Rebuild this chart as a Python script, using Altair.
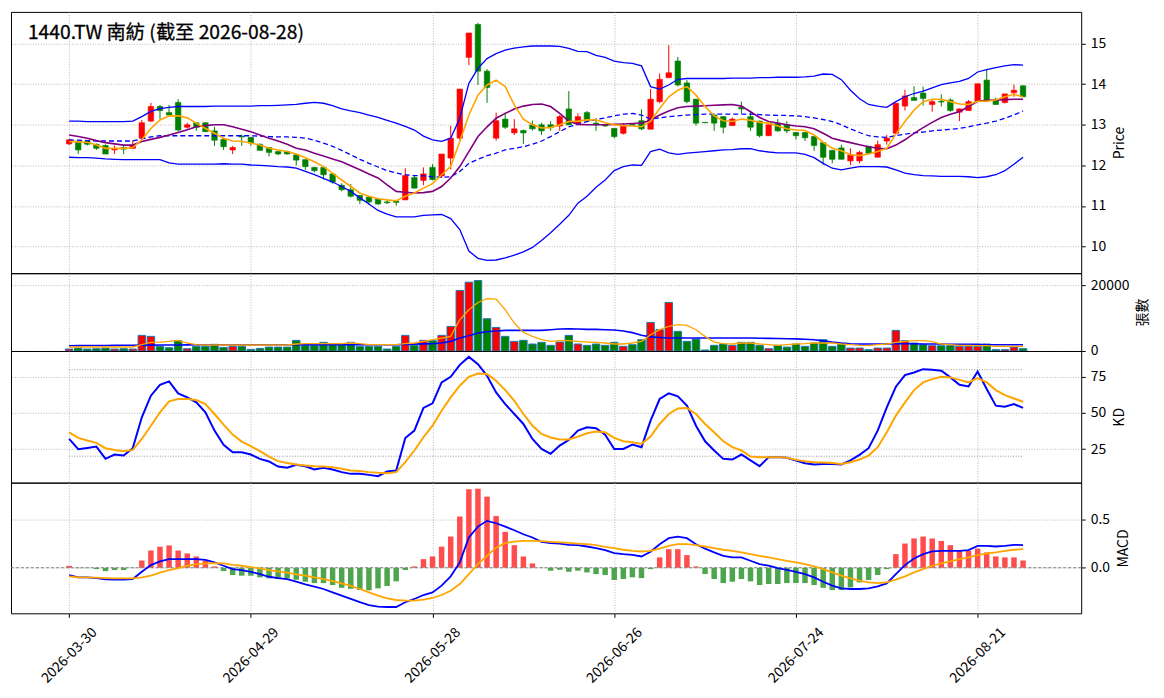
import altair as alt
import pandas as pd

FONT = "Noto Sans CJK TC"
TITLE = "1440.TW 南紡 (截至 2026-08-28)"

tick_pos = [0, 20, 40, 60, 80, 100]
tick_labels = ["2026-03-30", "2026-04-29", "2026-05-28", "2026-06-26", "2026-07-24", "2026-08-21"]

open_ = [12.53, 12.60, 12.60, 12.52, 12.49, 12.38, 12.44, 12.42, 12.67, 13.09,
         13.45, 13.30, 13.55, 12.94, 13.05, 13.05, 12.85, 12.64, 12.38, 12.72,
         12.69, 12.52, 12.44, 12.34, 12.34, 12.26, 12.14, 11.95, 11.95, 11.79,
         11.51, 11.40, 11.26, 11.22, 11.17, 11.10, 11.12, 11.15, 11.70, 11.63,
         11.95, 11.74, 12.18, 12.67, 14.66, 15.47, 14.32, 12.67, 13.14, 12.80,
         12.86, 13.00, 13.00, 13.00, 12.97, 13.39, 13.04, 13.30, 13.04, 12.99,
         12.91, 12.79, 13.01, 13.10, 12.89, 13.57, 14.16, 14.57, 14.03, 13.63,
         13.06, 13.24, 13.20, 12.98, 13.43, 13.20, 13.09, 12.73, 13.04, 13.00,
         12.81, 12.81, 12.71, 12.56, 12.37, 12.43, 12.11, 12.11, 12.47, 12.20,
         12.60, 12.79, 13.46, 13.67, 13.78, 13.50, 13.58, 13.61, 13.31, 13.35,
         13.57, 14.10, 13.61, 13.55, 13.79, 13.96]
high = [12.66, 12.62, 12.62, 12.54, 12.52, 12.49, 12.50, 12.62, 13.12, 13.54,
        13.49, 13.49, 13.63, 13.05, 13.06, 13.06, 12.95, 12.66, 12.48, 12.76,
        12.70, 12.54, 12.45, 12.36, 12.36, 12.27, 12.15, 11.96, 11.96, 11.80,
        11.56, 11.54, 11.27, 11.23, 11.18, 11.15, 11.13, 11.93, 11.75, 11.95,
        12.03, 12.28, 12.98, 13.88, 15.26, 15.51, 14.37, 13.30, 13.30, 13.14,
        12.88, 13.10, 13.05, 13.09, 13.24, 13.83, 13.28, 13.34, 13.16, 13.02,
        12.92, 13.04, 13.04, 13.38, 13.88, 14.26, 14.96, 14.67, 14.10, 13.64,
        13.06, 13.25, 13.21, 13.18, 13.57, 13.32, 13.10, 13.00, 13.14, 13.09,
        12.82, 12.82, 12.72, 12.57, 12.38, 12.51, 12.42, 12.36, 12.48, 12.61,
        12.75, 13.53, 13.86, 13.95, 13.94, 13.63, 13.75, 13.65, 13.40, 13.61,
        14.01, 14.35, 13.67, 13.76, 13.99, 13.97]
low = [12.50, 12.28, 12.49, 12.38, 12.28, 12.28, 12.28, 12.42, 12.65, 13.07,
       13.14, 13.24, 12.83, 12.91, 12.85, 12.83, 12.48, 12.38, 12.28, 12.48,
       12.48, 12.37, 12.22, 12.25, 12.27, 12.00, 11.89, 11.83, 11.65, 11.55,
       11.36, 11.21, 11.05, 11.03, 11.03, 11.05, 11.01, 11.15, 11.43, 11.51,
       11.63, 11.69, 11.90, 12.63, 14.47, 13.98, 13.54, 12.61, 12.90, 12.75,
       12.53, 12.86, 12.75, 12.85, 12.85, 12.99, 13.01, 13.07, 12.85, 12.95,
       12.67, 12.76, 12.98, 12.87, 12.89, 13.53, 14.16, 13.94, 13.53, 12.98,
       13.04, 12.85, 12.79, 12.98, 13.28, 12.85, 12.69, 12.73, 12.83, 12.79,
       12.64, 12.60, 12.36, 12.01, 12.05, 12.15, 12.01, 12.05, 12.30, 12.20,
       12.51, 12.79, 13.35, 13.60, 13.47, 13.32, 13.45, 13.32, 13.09, 13.35,
       13.57, 13.61, 13.49, 13.52, 13.69, 13.69]
close = [12.63, 12.38, 12.52, 12.42, 12.28, 12.42, 12.40, 12.50, 13.05, 13.45,
         13.35, 13.24, 12.87, 13.00, 12.94, 12.83, 12.62, 12.46, 12.44, 12.70,
         12.55, 12.37, 12.32, 12.28, 12.28, 12.13, 11.97, 11.87, 11.77, 11.59,
         11.40, 11.24, 11.14, 11.10, 11.05, 11.08, 11.09, 11.75, 11.44, 11.79,
         11.65, 12.28, 12.67, 13.88, 15.26, 14.32, 13.92, 13.10, 12.94, 12.90,
         12.80, 12.90, 12.85, 12.93, 13.20, 13.00, 13.20, 13.09, 13.00, 12.97,
         12.71, 12.97, 12.99, 12.90, 13.63, 14.12, 14.28, 13.98, 13.57, 13.04,
         13.05, 13.04, 12.94, 13.14, 13.39, 12.94, 12.73, 13.00, 12.85, 12.85,
         12.73, 12.68, 12.49, 12.20, 12.15, 12.15, 12.26, 12.32, 12.30, 12.51,
         12.67, 13.53, 13.71, 13.60, 13.65, 13.57, 13.56, 13.35, 13.39, 13.57,
         14.01, 13.61, 13.50, 13.76, 13.85, 13.69]

volume = [600, 900, 600, 700, 900, 600, 700, 600, 4770, 4470,
          1420, 1000, 3150, 700, 1420, 1420, 2030, 1100, 1420, 1420,
          500, 800, 1200, 1200, 1200, 3250, 1730, 1730, 2640, 2130,
          2130, 2640, 1420, 1420, 1420, 600, 1420, 4770, 1730, 3250,
          3150, 4770, 7500, 18470, 21000, 21500, 9850, 7200, 4470, 2940,
          3250, 2130, 2640, 1730, 2740, 4770, 2130, 1730, 2130, 1730,
          2640, 1420, 1930, 3450, 8730, 6500, 14820, 5990, 2940, 3650,
          300, 1730, 2130, 1730, 2640, 2640, 1730, 700, 1730, 1200,
          2130, 1420, 2440, 3450, 1420, 2130, 900, 900, 400, 900,
          900, 6290, 3150, 2440, 1930, 1620, 1620, 1620, 1420, 1420,
          1420, 2130, 400, 400, 1200, 700]
vol_ma5 = [1220, 1220, 1220, 1220, 1220, 1220, 1220, 1220, 1930, 2640,
           2700, 2940, 3250, 2440, 1930, 1830, 1830, 1830, 1830, 1830,
           1830, 1830, 1830, 1830, 1830, 2130, 2230, 2230, 2230, 2230,
           2230, 2440, 2230, 1930, 1930, 1930, 1930, 2230, 2440, 2940,
           3450, 3960, 4470, 9540, 12590, 14820, 15940, 15840, 12590, 8530,
           5680, 4470, 3450, 2940, 3150, 3150, 2940, 2740, 2640, 2440,
           2130, 2130, 2440, 2940, 4970, 6500, 7510, 8020, 7810, 6500,
           4470, 2740, 2230, 2130, 2440, 2440, 2130, 1930, 1730, 1930,
           2130, 2230, 2440, 2440, 2440, 2130, 1930, 1730, 1620, 1930,
           2130, 2640, 2940, 3150, 3150, 2840, 2130, 1930, 1730, 1730,
           1620, 1620, 1420, 1420, 1420, 1420]
vol_ma20 = [1620, 1640, 1660, 1680, 1700, 1720, 1740, 1760, 1780, 1800,
            1820, 1830, 1850, 1870, 1890, 1900, 1910, 1920, 1930, 1930,
            1930, 1930, 1930, 1930, 1930, 1930, 1930, 1930, 1930, 1930,
            1930, 1930, 1930, 1930, 1930, 1930, 1930, 2030, 2100, 2160,
            2230, 2440, 2940, 3960, 4670, 5480, 5890, 6090, 6290, 6290,
            6290, 6290, 6290, 6500, 6700, 6800, 6700, 6600, 6600, 6500,
            6400, 6100, 5600, 4800, 4300, 4100, 3960, 3960, 3960, 3960,
            3960, 3960, 3960, 3960, 3960, 3960, 3900, 3850, 3800, 3750,
            3700, 3600, 3450, 3100, 2700, 2400, 2200, 2130, 2130, 2130,
            2130, 2230, 2230, 2230, 2130, 2130, 2130, 2030, 2030, 2030,
            2030, 1930, 1930, 1930, 1930, 1930]

bb_upper = [13.09, 13.09, 13.08, 13.08, 13.08, 13.08, 13.08, 13.09, 13.20, 13.33,
            13.40, 13.43, 13.45, 13.45, 13.45, 13.45, 13.46, 13.46, 13.46, 13.46,
            13.46, 13.47, 13.47, 13.48, 13.49, 13.50, 13.53, 13.55, 13.53, 13.47,
            13.39, 13.34, 13.30, 13.24, 13.18, 13.11, 13.04, 12.96, 12.87, 12.72,
            12.63, 12.59, 12.67, 13.16, 14.02, 14.39, 14.63, 14.75, 14.84, 14.89,
            14.92, 14.94, 14.94, 14.94, 14.93, 14.88, 14.81, 14.80, 14.71, 14.66,
            14.57, 14.53, 14.51, 14.45, 13.94, 13.88, 13.98, 14.12, 14.14, 14.14,
            14.14, 14.14, 14.14, 14.15, 14.15, 14.15, 14.16, 14.16, 14.17, 14.17,
            14.17, 14.18, 14.20, 14.25, 14.24, 14.11, 13.85, 13.64, 13.50, 13.46,
            13.43, 13.57, 13.69, 13.77, 13.83, 13.91, 13.99, 14.03, 14.07, 14.14,
            14.30, 14.36, 14.41, 14.45, 14.48, 14.47]
bb_mid = [12.63, 12.62, 12.61, 12.60, 12.60, 12.60, 12.60, 12.60, 12.65, 12.70,
          12.73, 12.73, 12.73, 12.73, 12.73, 12.73, 12.73, 12.73, 12.73, 12.73,
          12.73, 12.72, 12.71, 12.70, 12.70, 12.69, 12.67, 12.62, 12.55, 12.47,
          12.37, 12.26, 12.15, 12.05, 11.96, 11.87, 11.81, 11.77, 11.75, 11.74,
          11.72, 11.71, 11.72, 11.85, 12.05, 12.15, 12.24, 12.30, 12.38, 12.42,
          12.46, 12.52, 12.60, 12.71, 12.83, 12.95, 13.01, 13.08, 13.13, 13.17,
          13.22, 13.26, 13.28, 13.24, 13.14, 13.17, 13.20, 13.22, 13.24, 13.25,
          13.26, 13.26, 13.26, 13.26, 13.26, 13.26, 13.25, 13.24, 13.23, 13.23,
          13.22, 13.20, 13.17, 13.13, 13.08, 13.00, 12.90, 12.81, 12.73, 12.70,
          12.69, 12.73, 12.77, 12.80, 12.82, 12.85, 12.87, 12.89, 12.91, 12.95,
          13.00, 13.04, 13.09, 13.16, 13.24, 13.34]
bb_lower = [12.20, 12.19, 12.19, 12.18, 12.16, 12.15, 12.14, 12.14, 12.14, 12.14,
            12.14, 12.06, 12.03, 12.03, 12.03, 12.03, 12.03, 12.04, 12.03, 12.03,
            12.01, 12.00, 11.99, 11.97, 11.96, 11.93, 11.85, 11.77, 11.68, 11.59,
            11.48, 11.36, 11.20, 11.05, 10.89, 10.80, 10.73, 10.73, 10.73, 10.77,
            10.78, 10.79, 10.69, 10.42, 9.89, 9.71, 9.66, 9.67, 9.72, 9.79,
            9.87, 9.98, 10.15, 10.34, 10.55, 10.77, 11.07, 11.24, 11.46, 11.64,
            11.87, 11.97, 12.01, 12.00, 12.34, 12.40, 12.31, 12.27, 12.30, 12.32,
            12.34, 12.36, 12.38, 12.39, 12.41, 12.41, 12.36, 12.33, 12.31, 12.31,
            12.31, 12.27, 12.19, 12.05, 11.93, 11.89, 11.93, 11.97, 11.97, 11.97,
            11.96, 11.89, 11.81, 11.77, 11.75, 11.74, 11.73, 11.73, 11.73, 11.72,
            11.70, 11.72, 11.77, 11.87, 12.03, 12.20]
ma5 = [12.59, 12.58, 12.57, 12.50, 12.42, 12.42, 12.42, 12.44, 12.63, 12.91,
       13.12, 13.22, 13.22, 13.17, 13.04, 12.91, 12.79, 12.67, 12.60, 12.59,
       12.55, 12.50, 12.42, 12.38, 12.34, 12.28, 12.19, 12.09, 11.97, 11.81,
       11.64, 11.48, 11.32, 11.24, 11.18, 11.15, 11.13, 11.24, 11.32, 11.44,
       11.55, 11.77, 11.97, 12.59, 13.24, 13.73, 13.98, 14.10, 13.94, 13.49,
       13.14, 13.00, 12.92, 12.93, 13.00, 13.08, 13.09, 13.12, 13.12, 13.05,
       13.00, 12.98, 12.97, 12.95, 13.09, 13.40, 13.69, 13.85, 13.94, 13.73,
       13.45, 13.22, 13.10, 13.08, 13.14, 13.11, 13.06, 13.04, 12.97, 12.90,
       12.87, 12.86, 12.75, 12.57, 12.42, 12.36, 12.26, 12.24, 12.28, 12.34,
       12.42, 12.77, 13.08, 13.36, 13.57, 13.63, 13.63, 13.57, 13.51, 13.50,
       13.58, 13.58, 13.61, 13.69, 13.75, 13.69]
ma10 = [12.75, 12.71, 12.67, 12.61, 12.56, 12.53, 12.50, 12.50, 12.59, 12.64,
        12.69, 12.75, 12.81, 12.88, 12.95, 12.98, 13.00, 13.00, 12.95, 12.89,
        12.83, 12.75, 12.67, 12.60, 12.52, 12.42, 12.38, 12.30, 12.23, 12.16,
        12.09, 11.99, 11.89, 11.79, 11.69, 11.52, 11.36, 11.34, 11.32, 11.33,
        11.36, 11.48, 11.69, 11.97, 12.34, 12.71, 12.95, 13.16, 13.28, 13.39,
        13.46, 13.50, 13.51, 13.45, 13.28, 13.09, 13.01, 13.00, 13.00, 13.00,
        13.01, 13.02, 13.03, 13.04, 13.12, 13.24, 13.34, 13.42, 13.45, 13.46,
        13.47, 13.48, 13.49, 13.50, 13.46, 13.32, 13.18, 13.08, 13.04, 13.00,
        12.97, 12.95, 12.90, 12.79, 12.67, 12.61, 12.56, 12.51, 12.46, 12.42,
        12.41, 12.50, 12.63, 12.79, 12.93, 13.06, 13.18, 13.26, 13.32, 13.45,
        13.58, 13.60, 13.61, 13.62, 13.63, 13.63]

k_val = [32.0, 24.9, 25.8, 26.7, 18.2, 21.2, 20.5, 25.6, 47.0, 62.0,
         69.6, 71.9, 63.6, 60.8, 57.4, 50.5, 37.8, 27.9, 22.8, 22.8,
         21.2, 18.2, 16.4, 12.9, 12.0, 14.1, 13.1, 10.8, 12.0, 10.8,
         9.0, 7.8, 7.8, 7.1, 6.2, 9.4, 10.1, 32.7, 37.8, 53.5,
         56.7, 71.2, 75.1, 83.4, 88.9, 83.9, 75.8, 64.3, 56.2, 49.3,
         42.4, 32.0, 25.1, 21.7, 27.4, 31.3, 37.8, 40.1, 39.4, 35.0,
         25.1, 25.1, 28.1, 26.3, 44.7, 59.7, 63.6, 61.5, 55.1, 41.2,
         30.4, 24.0, 18.2, 17.7, 21.2, 17.1, 13.1, 19.4, 19.4, 18.9,
         17.1, 15.2, 14.3, 14.7, 14.7, 14.3, 17.1, 21.0, 25.6, 37.8,
         53.9, 68.2, 76.3, 78.1, 80.4, 80.0, 79.3, 74.7, 69.6, 68.4,
         78.8, 66.6, 55.1, 54.4, 56.2, 53.5]
d_val = [36.6, 32.7, 30.9, 29.3, 25.6, 24.4, 23.5, 24.4, 32.0, 41.2,
         50.5, 58.1, 59.7, 59.7, 59.0, 56.2, 49.3, 41.9, 35.0, 30.2,
         27.0, 23.5, 19.8, 16.6, 15.4, 14.3, 13.6, 13.1, 12.9, 12.4,
         11.3, 10.1, 9.7, 9.0, 8.5, 8.3, 9.0, 15.9, 24.0, 33.2,
         41.2, 51.6, 60.8, 68.9, 75.1, 77.4, 77.0, 72.4, 65.9, 58.5,
         49.3, 41.2, 35.5, 33.0, 31.6, 31.6, 33.6, 35.9, 37.1, 36.6,
         32.7, 30.4, 29.7, 28.6, 33.6, 42.4, 49.3, 53.2, 53.5, 49.3,
         42.4, 36.6, 30.4, 26.3, 24.0, 19.8, 19.4, 19.4, 19.4, 18.9,
         17.5, 16.6, 15.9, 15.7, 15.4, 14.7, 15.9, 17.7, 20.5, 26.3,
         36.6, 48.2, 57.4, 65.9, 71.2, 73.5, 75.1, 74.7, 73.0, 71.2,
         74.2, 71.2, 65.9, 62.4, 60.1, 57.8]

macd_hist = [0.02, -0.004, -0.004, -0.014, -0.035, -0.024, -0.024, -0.003, 0.076, 0.18,
             0.22, 0.233, 0.18, 0.15, 0.118, 0.076, 0.014, -0.035, -0.076, -0.083,
             -0.083, -0.10, -0.111, -0.118, -0.111, -0.125, -0.146, -0.16, -0.16, -0.18,
             -0.21, -0.22, -0.233, -0.236, -0.215, -0.19, -0.142, -0.024, 0.014, 0.09,
             0.118, 0.22, 0.326, 0.535, 0.82, 0.826, 0.743, 0.54, 0.375, 0.236,
             0.118, 0.045, -0.003, -0.031, -0.021, -0.042, -0.031, -0.049, -0.066, -0.076,
             -0.128, -0.118, -0.10, -0.108, -0.014, 0.108, 0.194, 0.194, 0.132, 0.014,
             -0.066, -0.118, -0.16, -0.146, -0.118, -0.142, -0.18, -0.17, -0.17, -0.16,
             -0.16, -0.16, -0.18, -0.21, -0.233, -0.233, -0.205, -0.153, -0.128, -0.076,
             -0.014, 0.142, 0.253, 0.306, 0.326, 0.306, 0.28, 0.236, 0.177, 0.177,
             0.2, 0.16, 0.118, 0.108, 0.108, 0.076]
dif = [-0.076, -0.10, -0.10, -0.108, -0.12, -0.125, -0.125, -0.118, -0.042, 0.028,
       0.066, 0.09, 0.09, 0.09, 0.09, 0.083, 0.056, 0.021, -0.014, -0.024,
       -0.042, -0.066, -0.094, -0.108, -0.118, -0.146, -0.174, -0.198, -0.222, -0.257,
       -0.292, -0.326, -0.36, -0.39, -0.406, -0.41, -0.41, -0.36, -0.326, -0.285,
       -0.257, -0.187, -0.09, 0.056, 0.316, 0.43, 0.49, 0.465, 0.43, 0.392,
       0.35, 0.316, 0.27, 0.257, 0.253, 0.24, 0.236, 0.222, 0.205, 0.184,
       0.153, 0.142, 0.135, 0.118, 0.167, 0.246, 0.309, 0.326, 0.309, 0.246,
       0.2, 0.16, 0.125, 0.108, 0.108, 0.073, 0.038, 0.021, -0.003, -0.021,
       -0.042, -0.066, -0.10, -0.146, -0.187, -0.215, -0.222, -0.222, -0.215, -0.194,
       -0.163, -0.066, 0.028, 0.097, 0.142, 0.17, 0.177, 0.177, 0.177, 0.184,
       0.229, 0.229, 0.222, 0.229, 0.24, 0.236]
dea = [-0.09, -0.10, -0.10, -0.104, -0.108, -0.11, -0.111, -0.111, -0.10, -0.083,
       -0.052, -0.024, -0.003, 0.021, 0.035, 0.045, 0.049, 0.045, 0.031, 0.021,
       0.007, -0.007, -0.024, -0.038, -0.052, -0.07, -0.083, -0.10, -0.118, -0.139,
       -0.163, -0.19, -0.222, -0.257, -0.292, -0.32, -0.337, -0.344, -0.344, -0.333,
       -0.316, -0.285, -0.24, -0.17, -0.066, 0.038, 0.125, 0.21, 0.257, 0.274,
       0.28, 0.28, 0.278, 0.27, 0.264, 0.26, 0.253, 0.246, 0.236, 0.219,
       0.205, 0.188, 0.177, 0.17, 0.177, 0.2, 0.229, 0.246, 0.246, 0.236,
       0.222, 0.205, 0.188, 0.177, 0.16, 0.142, 0.125, 0.108, 0.09, 0.073,
       0.056, 0.038, 0.014, -0.014, -0.049, -0.083, -0.111, -0.135, -0.153, -0.16,
       -0.153, -0.125, -0.09, -0.049, -0.014, 0.021, 0.045, 0.066, 0.09, 0.108,
       0.132, 0.149, 0.16, 0.177, 0.188, 0.194]

n = len(close)
df = pd.DataFrame({
    "idx": list(range(n)), "open": open_, "high": high, "low": low, "close": close,
    "volume": volume, "vol_ma5": vol_ma5, "vol_ma20": vol_ma20,
    "bb_upper": bb_upper, "bb_mid": bb_mid, "bb_lower": bb_lower,
    "ma5": ma5, "ma10": ma10, "k": k_val, "d": d_val,
    "hist": macd_hist, "dif": dif, "dea": dea,
})
df["dir"] = ["up" if c >= o else "down" for o, c in zip(open_, close)]
df["hsign"] = ["pos" if h >= 0 else "neg" for h in macd_hist]

W = 1073
X_DOM = [-6.4, 111.4]

# label expression as a chain of conditionals built from the tick lists
label_expr = "''"
for p, lab in reversed(list(zip(tick_pos, tick_labels))):
    label_expr = f"datum.value == {p} ? '{lab}' : ({label_expr})"

GRID = dict(grid=True, gridColor="#aaaaaa", gridDash=[1, 1.6], gridWidth=0.8)


def xs():
    return alt.Scale(domain=X_DOM, nice=False, zero=False, padding=0)


def xaxis(bottom=False):
    if bottom:
        return alt.Axis(values=tick_pos, labelExpr=label_expr, labelAngle=315,
                        labelAlign="center", labelBaseline="middle", labelPadding=38,
                        tickSize=4, tickColor="black", domain=False, title=None,
                        labelFlush=False, labelOverlap=False, labelFontSize=14, **GRID)
    return alt.Axis(values=tick_pos, labels=False, ticks=False, domain=False,
                    title=None, **GRID)


def yaxis(title, values, fmt):
    return alt.Axis(orient="right", values=values, format=fmt, title=title,
                    titleAngle=270, titleBaseline="top", titlePadding=7,
                    tickSize=4, tickColor="black", labelPadding=5, domain=False,
                    labelFlush=False, labelOverlap=False, labelFontSize=14,
                    titleFontSize=14, titleFontWeight="normal", **GRID)


UPDOWN = alt.Scale(domain=["up", "down"], range=["#ff0000", "#008000"])

# ---------------- price panel ----------------
P_DOM = [9.345, 15.78]
pax = yaxis("Price", [10, 11, 12, 13, 14, 15], "d")
pxax = xaxis()
base = alt.Chart(df)


def penc(field, **extra):
    return dict(x=alt.X("idx:Q", scale=xs(), axis=pxax),
                y=alt.Y(f"{field}:Q", scale=alt.Scale(domain=P_DOM, nice=False, zero=False), axis=pax),
                **extra)


wick = base.mark_rule(strokeWidth=1).encode(
    **penc("low", y2="high:Q", color=alt.Color("dir:N", scale=UPDOWN, legend=None)))
body = base.mark_bar(size=5.5, strokeWidth=0.6).encode(
    **penc("open", y2="close:Q", color=alt.Color("dir:N", scale=UPDOWN, legend=None),
           stroke=alt.Stroke("dir:N", scale=UPDOWN, legend=None)))


def pline(field, color, width=1.3, dash=None):
    kw = dict(color=color, strokeWidth=width)
    if dash:
        kw["strokeDash"] = dash
    return base.mark_line(**kw).encode(**penc(field))


title_txt = alt.Chart(pd.DataFrame({"t": [TITLE]})).mark_text(
    align="left", baseline="middle", fontSize=19.3, font=FONT, color="black",
    stroke="black", strokeWidth=0.3).encode(
    text="t:N", x=alt.value(17), y=alt.value(21))

price = alt.layer(
    wick, body,
    pline("bb_upper", "#0000ff", 1.3),
    pline("bb_lower", "#0000ff", 1.3),
    pline("bb_mid", "#0000ff", 1.3, [5, 3]),
    pline("ma10", "#800080", 1.6),
    pline("ma5", "#ffa500", 1.6),
    title_txt,
).properties(width=W, height=262)

# ---------------- volume panel ----------------
V_DOM = [0, 23744]
vax = yaxis("張數", [0, 20000], "d")


def venc(field, **extra):
    return dict(x=alt.X("idx:Q", scale=xs(), axis=pxax),
                y=alt.Y(f"{field}:Q", scale=alt.Scale(domain=V_DOM, nice=False, zero=False), axis=vax),
                **extra)


vbars = base.mark_bar(size=7.5, stroke="#1f77b4", strokeWidth=1).encode(
    **venc("volume", color=alt.Color("dir:N", scale=UPDOWN, legend=None)))
vma5 = base.mark_line(color="#ffa500", strokeWidth=1.3).encode(**venc("vol_ma5"))
vma20 = base.mark_line(color="#0000ff", strokeWidth=1.6).encode(**venc("vol_ma20"))
vol = alt.layer(vbars, vma20, vma5).properties(width=W, height=78)

# ---------------- KD panel ----------------
K_DOM = [1.7, 93.0]
kax = yaxis("KD", [25, 50, 75], "d")


def kenc(field, xfield="idx", **extra):
    return dict(x=alt.X(f"{xfield}:Q", scale=xs(), axis=pxax),
                y=alt.Y(f"{field}:Q", scale=alt.Scale(domain=K_DOM, nice=False, zero=False), axis=kax),
                **extra)


ref_df = pd.DataFrame({"lvl": [20, 80], "x0": [0, 0], "x1": [n - 1, n - 1]})
kref = alt.Chart(ref_df).mark_rule(color="#999999", strokeDash=[1, 1.6], strokeWidth=1).encode(
    **kenc("lvl", xfield="x0", x2="x1:Q"))
kline = base.mark_line(color="#0000ff", strokeWidth=2).encode(**kenc("k"))
dline = base.mark_line(color="#ffa500", strokeWidth=2).encode(**kenc("d"))
kd = alt.layer(kref, kline, dline).properties(width=W, height=132)

# ---------------- MACD panel ----------------
M_DOM = [-0.476, 0.889]
max_ = yaxis("MACD", [0.0, 0.5], ".1f")
mxax = xaxis(bottom=True)


def menc(field, **extra):
    return dict(x=alt.X("idx:Q", scale=xs(), axis=mxax),
                y=alt.Y(f"{field}:Q", scale=alt.Scale(domain=M_DOM, nice=False, zero=False), axis=max_),
                **extra)


hbars = base.mark_bar(size=5.5).encode(
    **menc("hist", color=alt.Color("hsign:N", scale=alt.Scale(domain=["pos", "neg"], range=["#ff4d4d", "#4da64d"]), legend=None)))
zero = base.mark_rule(color="#808080", strokeDash=[3, 2], strokeWidth=1).encode(
    y=alt.Y("zero_level:Q", scale=alt.Scale(domain=M_DOM, nice=False, zero=False), axis=max_)
).transform_aggregate(zero_level="min(idx)")
difl = base.mark_line(color="#0000ff", strokeWidth=1.8).encode(**menc("dif"))
deal = base.mark_line(color="#ffa500", strokeWidth=1.8).encode(**menc("dea"))
macd = alt.layer(hbars, zero, difl, deal).properties(width=W, height=131)

chart = alt.vconcat(price, vol, kd, macd, spacing=0, bounds="flush").resolve_scale(
    color="independent", stroke="independent"
).properties(
    padding={"left": 2, "top": 2, "right": 5, "bottom": 5}
).configure(font=FONT).configure_view(stroke="black", strokeWidth=1).configure_axis(
    labelFont=FONT, titleFont=FONT, labelColor="black", titleColor="black")

chart.save("out.html", embed_options={"renderer": "svg", "actions": False})
